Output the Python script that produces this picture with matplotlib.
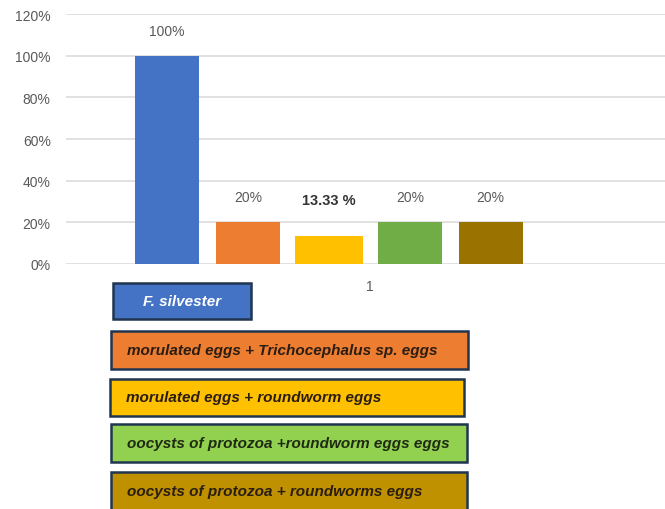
import matplotlib
matplotlib.use("Agg")
import matplotlib.pyplot as plt
from matplotlib.patches import Rectangle

plt.rcParams['font.family'] = ['Liberation Sans', 'DejaVu Sans']

# data
categories = ["1"]
series_names = [
    "F. silvester",
    "morulated eggs + Trichocephalus sp. eggs",
    "morulated eggs + roundworm eggs",
    "oocysts of protozoa +roundworm eggs eggs",
    "oocysts of protozoa + roundworms eggs",
]
values = [100, 20, 13.33, 20, 20]
value_labels = ["100%", "20%", "13.33 %", "20%", "20%"]
yticks = [0, 20, 40, 60, 80, 100, 120]
ytick_labels = ["0%", "20%", "40%", "60%", "80%", "100%", "120%"]

# styles
bar_colors = ["#4472C4", "#ED7D31", "#FFC000", "#70AD47", "#9A7200"]
box_colors = ["#4472C4", "#ED7D31", "#FFC000", "#92D050", "#BF9000"]
box_text_colors = ["white", "#2a1d12", "#2a1d12", "#1f2a12", "#2a1d12"]
label_offsets = [18, 18, 26, 18, 18]  # points above bar top
# legend boxes in pixels: x0, y0(top), x1, y1(bottom)
boxes_px = [(113, 284, 251, 320), (111, 332, 468, 370), (110, 380, 464, 417),
            (111, 425, 467, 463), (111, 473, 467, 512)]
text_x_px = [143, 127, 126, 127, 127]

W, H = 665, 510
fig = plt.figure(figsize=(W / 100, H / 100), dpi=100)
ax = fig.add_axes([66 / W, 1 - 265 / H, 1 - 66 / W, 250 / H])

xcat = 0.507
step = 0.135
shift = -0.068
width = 0.107
for i, (v, c) in enumerate(zip(values, bar_colors)):
    x = xcat + shift + (i - 2) * step
    w = width * (1.05 if i == 2 else 1)
    ax.bar(x, v, width=w, color=c, zorder=3)
    bold = i == 2
    ax.annotate(value_labels[i], (x, v), xytext=(0, label_offsets[i]),
                textcoords="offset points", ha="center", va="center",
                fontsize=10.5 if bold else 10,
                color="#333333" if bold else "#595959",
                fontweight="bold" if bold else "normal")

ax.set_xlim(0, 1)
ax.set_ylim(0, 120)
ax.set_yticks(yticks)
ax.set_yticklabels(ytick_labels, fontsize=10, color="#595959")
ax.set_xticks([xcat])
ax.set_xticklabels(categories, fontsize=10, color="#595959")
ax.tick_params(length=0)
ax.tick_params(axis="x", pad=11)
ax.tick_params(axis="y", pad=11)
ax.grid(axis="y", color="#dcdcdc", linewidth=1.2, zorder=0)
for s in ax.spines.values():
    s.set_visible(False)

# legend boxes
for i, (x0, y0, x1, y1) in enumerate(boxes_px):
    rect = Rectangle((x0 / W, 1 - y1 / H), (x1 - x0) / W, (y1 - y0) / H,
                     transform=fig.transFigure, facecolor=box_colors[i],
                     edgecolor="#1f3550", linewidth=1.8, clip_on=False)
    fig.add_artist(rect)
    fig.text(text_x_px[i] / W, 1 - (y0 + y1) / 2 / H, series_names[i],
             ha="left", va="center", fontsize=11, fontstyle="italic",
             fontweight="bold", color=box_text_colors[i])

fig.savefig("out.png", dpi=100)
